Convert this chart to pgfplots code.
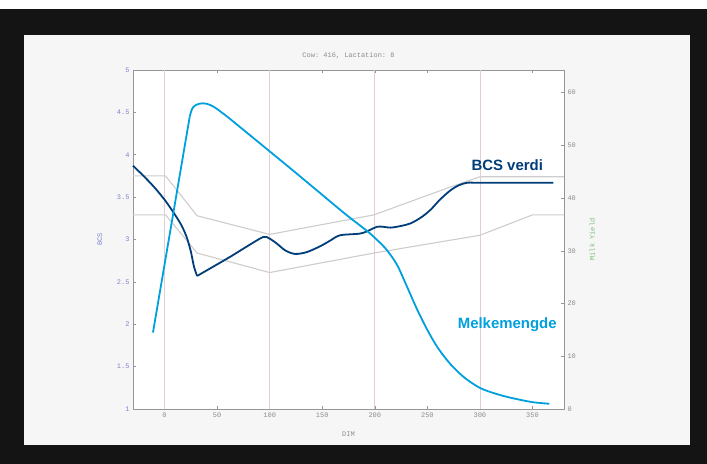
\documentclass[border=0pt]{standalone}
\usepackage{fontspec}
\setmainfont{Liberation Sans}
\setmonofont{Liberation Mono}
\usepackage{pgfplots}
\pgfplotsset{compat=1.18}

\definecolor{bcsblue}{RGB}{0,62,122}
\definecolor{milkblue}{RGB}{0,160,222}
\definecolor{bandgray}{RGB}{205,205,205}
\definecolor{gridpink}{RGB}{228,205,210}
\definecolor{axisgray}{RGB}{150,150,150}
\definecolor{tickgray}{RGB}{140,140,140}
\definecolor{ticklilac}{RGB}{130,130,210}
\definecolor{labelgreen}{RGB}{120,190,120}
\definecolor{screen}{RGB}{246,246,246}

\pgfplotsset{
  chartbase/.style={
    at={(133bp,55bp)}, anchor=south west,
    scale only axis, width=431bp, height=339bp,
    xmin=-30, xmax=380,
    tick align=inside, major tick length=3bp,
    axis line style={axisgray, line width=0.6bp},
    tick style={axisgray, line width=0.5bp},
    /pgf/number format/assume math mode=true,
    ticklabel style={font=\ttfamily\fontsize{7}{8}\selectfont, text=tickgray},
  },
}

\begin{document}
\begin{tikzpicture}
\useasboundingbox (0,0) rectangle (707bp,464bp);
% monitor bezel and screen
\fill[white] (0,0) rectangle (707bp,464bp);
\fill[black!92] (0,0) rectangle (707bp,455bp);
\fill[screen] (24bp,19bp) rectangle (690bp,429bp);

% left axis: BCS
\begin{axis}[
  chartbase,
  ymin=1, ymax=5,
  xtick={0,50,...,350},
  ytick={1,1.5,...,5},
  xtick pos=both, ytick pos=left,
  extra x ticks={0,100,200,300},
  extra x tick labels={},
  extra x tick style={xmajorgrids=true, major tick length=0pt,
    major grid style={gridpink, line width=0.6bp}},
  yticklabel style={text=ticklilac, /pgf/number format/.cd, fixed, precision=1},
  axis background/.style={fill=white},
  clip=false,
]
% reference band
\addplot[bandgray, line width=1.1bp] coordinates {
  (-30,3.75) (1,3.75) (31,3.28) (100,3.06) (199,3.29) (272,3.62) (300,3.74) (380,3.74)
};
\addplot[bandgray, line width=1.1bp] coordinates {
  (-30,3.29) (1,3.29) (31,2.84) (100,2.61) (199,2.84) (300,3.05) (350,3.29) (380,3.29)
};
% BCS curve
\addplot[bcsblue, line width=1.8bp, smooth, tension=0.5] coordinates {
  (-30,3.87) (-20,3.75) (-10,3.62) (0,3.47) (9,3.31) (16,3.17)
  (21,3.03) (25,2.86) (28,2.68) (31,2.57)
};
\addplot[bcsblue, line width=1.8bp, smooth, tension=0.5] coordinates {
  (31,2.57) (45,2.67) (63,2.80) (80,2.93) (94,3.03) (100,3.01)
  (107,2.95) (115,2.87) (124,2.83) (135,2.85) (148,2.92) (158,2.99)
  (167,3.05) (186,3.07) (195,3.11) (202,3.15) (208,3.15) (215,3.14)
  (225,3.16) (234,3.19) (244,3.26) (253,3.35) (262,3.47) (272,3.58)
  (280,3.64) (288,3.67) (300,3.67) (370,3.67)
};
\node[font=\ttfamily\fontsize{7}{8}\selectfont, text=tickgray]
  at (axis description cs:0.5,1) [above=8bp] {Cow: 416, Lactation: 8};
\node[font=\ttfamily\fontsize{7}{8}\selectfont, text=tickgray]
  at (axis description cs:0.5,0) [below=19bp] {DIM};
\node[font=\ttfamily\fontsize{7}{8}\selectfont, text=ticklilac, rotate=90]
  at (axis description cs:-0.077,0.5) {BCS};
\node[font=\ttfamily\fontsize{7}{8}\selectfont, text=labelgreen, rotate=90]
  at (axis description cs:1.065,0.5) {Milk Yield};
\node[font=\bfseries\fontsize{15}{17}\selectfont, text=bcsblue]
  at (axis cs:326,3.88) {BCS verdi};
\node[font=\bfseries\fontsize{15}{17}\selectfont, text=milkblue]
  at (axis cs:326,1.99) {Melkemengde};
\end{axis}

% right axis: milk yield
\begin{axis}[
  chartbase,
  ymin=0, ymax=64.3,
  axis y line*=right, axis x line=none,
  ytick={0,10,...,60},
]
\addplot[milkblue, line width=1.8bp] coordinates {
  (-11,14.5) (24,55.5)
};
\addplot[milkblue, line width=1.8bp, smooth, tension=0.6] coordinates {
  (24,55.5) (27,57.2) (33,57.9) (40,57.9) (47,57.3) (54,56.3) (60,55.4)
};
\addplot[milkblue, line width=1.8bp, smooth, tension=0.5] coordinates {
  (60,55.4) (120,45.6) (170,37.3) (186,34.8) (196,33.2) (210,30.5)
  (221,27.4) (230,23.5) (240,19.0) (250,15.0) (260,11.6) (272,8.5)
  (285,6.0) (300,4.0) (315,2.9) (330,2.1) (350,1.3) (366,1.0)
};
\end{axis}
\end{tikzpicture}
\end{document}
